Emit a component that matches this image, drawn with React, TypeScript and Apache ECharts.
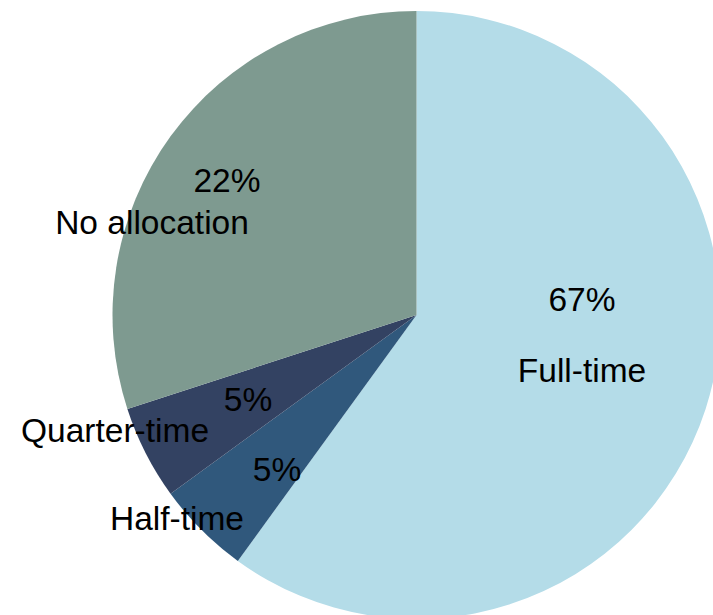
import React, { useEffect, useRef } from "react";
import * as echarts from "echarts";

const categories = ["Full-time", "Half-time", "Quarter-time", "No allocation"];
const sliceValues = [60, 5, 5, 30];
const percentLabels = ["67%", "5%", "5%", "22%"];

const colors = ["#B4DCE8", "#30587C", "#334262", "#7E9A90"];
// label anchor points (centres) for percent and name labels
const percentPos = [
  [582, 299],
  [277, 469],
  [248, 399],
  [227, 180],
];
const namePos = [
  [582, 370],
  [177, 518],
  [115, 430],
  [152, 222],
];

export default function App() {
  const ref = useRef<HTMLDivElement>(null);
  useEffect(() => {
    document.body.style.margin = "0";
    const chart = echarts.init(ref.current!, null, { renderer: "svg" });
    const font = "'Liberation Sans', Arial, sans-serif";
    const base = {
      type: "pie" as const,
      center: [416.5, 315],
      radius: 304,
      startAngle: 90,
      clockwise: true,
      avoidLabelOverlap: false,
      silent: true,
      labelLine: { show: false },
    };
    chart.setOption({
      animation: false,
      backgroundColor: "#ffffff",
      series: [
        {
          ...base,
          data: categories.map((c, i) => ({
            name: c,
            value: sliceValues[i],
            itemStyle: { color: colors[i] },
          })),
          itemStyle: { borderWidth: 0 },
          label: {
            show: true,
            position: "inside",
            formatter: (p: any) => percentLabels[p.dataIndex],
            fontSize: 33.5,
            fontFamily: font,
            color: "#000000",
          },
          labelLayout: (p: any) => ({
            x: percentPos[p.dataIndex][0],
            y: percentPos[p.dataIndex][1],
            align: "center",
            verticalAlign: "middle",
          }),
        },
        {
          ...base,
          data: categories.map((c, i) => ({
            name: c,
            value: sliceValues[i],
            itemStyle: { color: "rgba(0,0,0,0)", borderWidth: 0 },
          })),
          label: {
            show: true,
            position: "inside",
            formatter: (p: any) => p.name,
            fontSize: 33.5,
            fontFamily: font,
            color: "#000000",
          },
          labelLayout: (p: any) => ({
            x: namePos[p.dataIndex][0],
            y: namePos[p.dataIndex][1],
            align: "center",
            verticalAlign: "middle",
          }),
        },
      ],
    });
    return () => chart.dispose();
  }, []);
  return (
    <div
      ref={ref}
      style={{ position: "fixed", left: 0, top: 0, width: 713, height: 615 }}
    />
  );
}
